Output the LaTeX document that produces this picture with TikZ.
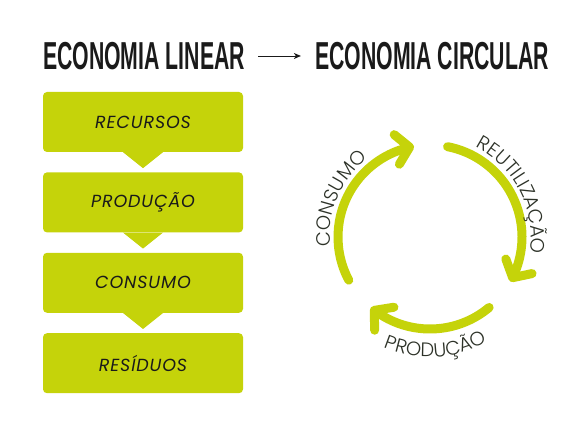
\documentclass[tikz,border=0pt]{standalone}
\usepackage{fontspec}
\setmainfont{Poppins}
\newfontfamily\titlefont{Liberation Sans}[FakeStretch=0.545]
\newfontfamily\boxfont{Poppins}[LetterSpace=5]
\newfontfamily\circfont{Poppins Light}
\usetikzlibrary{arrows.meta,positioning,calc,decorations.text,bending}
\definecolor{lime}{RGB}{197,211,10}
\definecolor{ink}{RGB}{26,26,26}
\definecolor{circink}{RGB}{45,50,40}

\begin{document}
\begin{tikzpicture}[
  x=1pt,y=1pt,
  title/.style={font=\titlefont\bfseries\fontsize{39}{39}\selectfont,inner sep=0pt,text=ink},
  stepbox/.style={fill=lime,rounded corners=4pt,minimum width=200pt,minimum height=60pt,
    font=\boxfont\itshape\fontsize{17.5}{17.5}\selectfont,text=ink},
  cyc/.style={draw=lime,line width=9pt,line cap=round,-{Straight Barb[round,length=13pt,width=30pt]}},
  lbl/.style={decorate,decoration={text along path,text align=center,text color=circink}},
  node distance=20pt
]
\useasboundingbox (0,0) rectangle (577,433);

\node[title] (lin) at (144,377) {ECONOMIA LINEAR};
\node[title] (circ) at (432,377) {ECONOMIA CIRCULAR};
\draw[-{Stealth[length=7pt,width=6pt,inset=2pt]},line width=0.9pt,draw=ink,shorten <=13pt,shorten >=14pt] (lin) -- (circ);

% linear chain
\node[stepbox] (rec) at (143,311) {RECURSOS};
\node[stepbox,below=of rec] (prod) {PRODUÇÃO};
\node[stepbox,below=of prod] (cons) {CONSUMO};
\node[stepbox,below=of cons] (res) {RESÍDUOS};
\foreach \n in {rec,prod,cons}
  \fill[lime] ([xshift=-20pt]\n.south) -- ([xshift=20pt]\n.south) -- ([yshift=-16pt]\n.south) -- cycle;

% circular
\coordinate (ctr) at (430,196);
\draw[cyc] ($(ctr)+(208:92)$) arc[start angle=208,end angle=100,radius=92];
\draw[cyc] ($(ctr)+(79:92)$) arc[start angle=79,end angle=-29,radius=92];
\draw[cyc] ($(ctr)+(-50:92)$) arc[start angle=-50,end angle=-130,radius=92];

\path[lbl,decoration={text={|\circfont\fontsize{19.5}{19.5}\selectfont|CONSUMO}}]
  ($(ctr)+(230:100)$) arc[start angle=230,end angle=84,radius=100];
\path[lbl,decoration={text={|\circfont\fontsize{19.5}{19.5}\selectfont|REUTILIZAÇÃO}}]
  ($(ctr)+(100:101)$) arc[start angle=100,end angle=-46,radius=101];
\path[lbl,decoration={text={|\circfont\fontsize{19.5}{19.5}\selectfont|PRODUÇÃO}}]
  ($(ctr)+(-160:120)$) arc[start angle=-160,end angle=-14,radius=120];
\end{tikzpicture}
\end{document}
